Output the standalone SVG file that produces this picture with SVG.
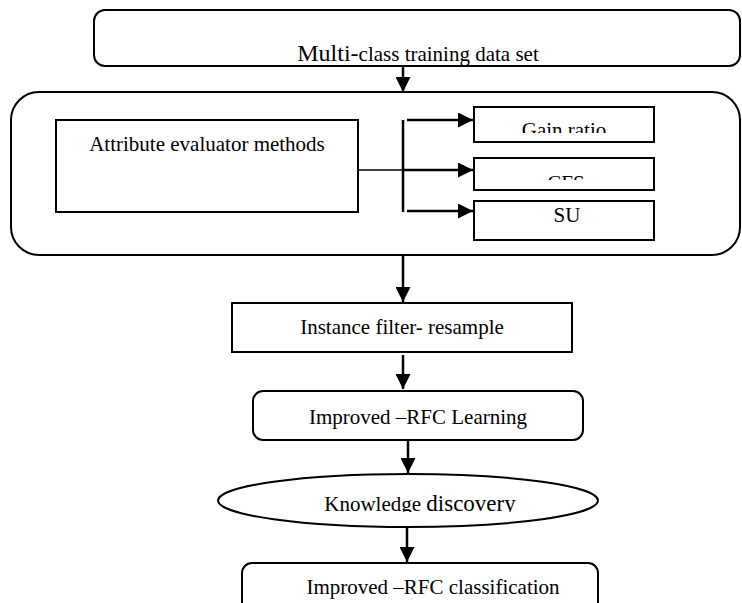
<svg xmlns="http://www.w3.org/2000/svg" width="742" height="603" viewBox="0 0 742 603">
<style>
.box{fill:#fff;stroke:#000;stroke-width:2}
.t{font-family:"Liberation Serif","Times New Roman",serif;font-size:21px;fill:#000;text-anchor:middle}
.ln{stroke:#000;stroke-width:2.5;fill:none}
.thin{stroke:#000;stroke-width:1.3;fill:none}
</style>
<defs>
<marker id="ah" markerWidth="15" markerHeight="15" refX="15" refY="7.5" orient="auto" markerUnits="userSpaceOnUse">
<path d="M0,0 L15,7.5 L0,15 Z" fill="#000"/>
</marker>
<clipPath id="cGain"><rect x="474" y="107" width="180" height="26"/></clipPath>
<clipPath id="cCfs"><rect x="474" y="158" width="180" height="22"/></clipPath>
<clipPath id="cKd"><rect x="200" y="474" width="420" height="38"/></clipPath>
</defs>
<rect width="742" height="603" fill="#fff"/>
<g id="n-data">
<rect class="box" x="94" y="10" width="646" height="56" rx="11"/>
<text class="t" x="418" y="61"><tspan font-size="24">Multi-</tspan>class training data set</text>
</g>
<g id="n-container">
<rect class="box" x="11" y="92" width="729" height="163" rx="28"/>
</g>
<g id="n-attr">
<rect class="box" x="56" y="120" width="302" height="92"/>
<text class="t" x="207" y="151">Attribute evaluator methods</text>
</g>
<g id="n-gain">
<rect class="box" x="474" y="107" width="180" height="35"/>
<text class="t" x="564" y="137" clip-path="url(#cGain)">Gain ratio</text>
</g>
<g id="n-cfs">
<rect class="box" x="474" y="158" width="180" height="32"/>
<text class="t" x="566" y="190" clip-path="url(#cCfs)">CFS</text>
</g>
<g id="n-su">
<rect class="box" x="474" y="201" width="180" height="39"/>
<text class="t" x="567" y="222">SU</text>
</g>
<g id="n-instance">
<rect class="box" x="232" y="303" width="340" height="49"/>
<text class="t" x="402" y="334">Instance filter- resample</text>
</g>
<g id="n-learning">
<rect class="box" x="253" y="391" width="330" height="49" rx="10"/>
<text class="t" x="418" y="424">Improved –RFC Learning</text>
</g>
<g id="n-knowledge">
<ellipse class="box" cx="408" cy="500.5" rx="190" ry="26.5"/>
<text class="t" x="420" y="511" clip-path="url(#cKd)">Knowledge <tspan font-size="23">discovery</tspan></text>
</g>
<g id="n-classification">
<rect class="box" x="242" y="563" width="356" height="60" rx="10"/>
<text class="t" x="433" y="594">Improved –RFC classification</text>
</g>
<g id="connectors">
<line class="ln" x1="403" y1="66" x2="403" y2="92" marker-end="url(#ah)"/>
<line class="thin" x1="358" y1="170" x2="403" y2="170"/>
<line class="ln" x1="403" y1="120" x2="403" y2="212"/>
<line class="ln" x1="407" y1="120" x2="473" y2="120" marker-end="url(#ah)"/>
<line class="ln" x1="403" y1="170" x2="473" y2="170" marker-end="url(#ah)"/>
<line class="ln" x1="407" y1="211" x2="473" y2="211" marker-end="url(#ah)"/>
<line class="ln" x1="403" y1="255" x2="403" y2="302" marker-end="url(#ah)"/>
<line class="ln" x1="403" y1="355" x2="403" y2="389" marker-end="url(#ah)"/>
<line class="ln" x1="408" y1="440" x2="408" y2="473" marker-end="url(#ah)"/>
<line class="ln" x1="407" y1="527" x2="407" y2="562" marker-end="url(#ah)"/>
</g>
</svg>
